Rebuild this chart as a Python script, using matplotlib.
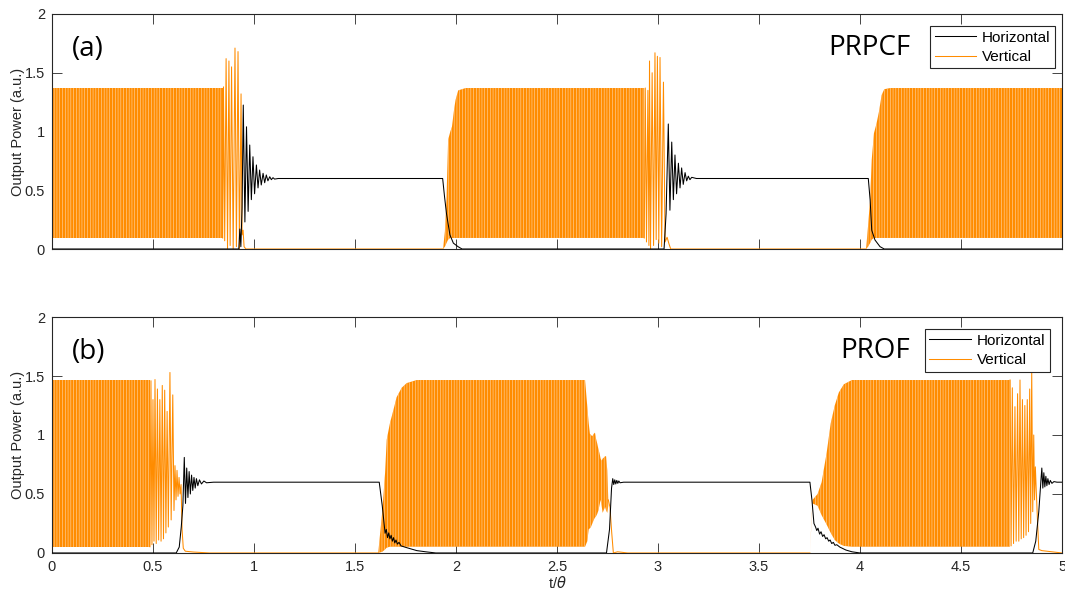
import numpy as np
import matplotlib
matplotlib.use("Agg")
import matplotlib.pyplot as plt
from matplotlib.lines import Line2D

plt.rcParams['font.family'] = ['Liberation Sans', 'DejaVu Sans']
plt.rcParams['hatch.linewidth'] = 0.4

ORANGE = '#FF8C00'
GREY = '#262626'

# ---------------- panel (a) PRPCF ----------------
# Vertical: dense oscillation bands (envelope knots: time, upper, lower)
a_band1_t = [0.0, 0.845]
a_band1_hi = [1.37, 1.37]
a_band1_lo = [0.094, 0.094]

a_band2_t = [1.936, 1.945, 1.953, 1.961, 1.972, 1.980, 1.990, 1.998, 2.011, 2.048, 2.932]
a_band2_hi = [0.0, 0.15, 0.42, 0.93, 1.00, 1.04, 1.18, 1.27, 1.35, 1.37, 1.37]
a_band2_lo = [0.0, 0.02, 0.05, 0.08, 0.094, 0.094, 0.094, 0.094, 0.094, 0.094, 0.094]

a_band3_t = [4.030, 4.040, 4.050, 4.058, 4.069, 4.082, 4.094, 4.107, 4.120, 4.150, 5.0]
a_band3_hi = [0.0, 0.20, 0.42, 0.76, 0.985, 1.07, 1.17, 1.31, 1.36, 1.37, 1.37]
a_band3_lo = [0.0, 0.02, 0.05, 0.08, 0.094, 0.094, 0.094, 0.094, 0.094, 0.094, 0.094]

# Vertical: single peaks of the bursts and the off state
a_vert_t = [0.845, 0.849, 0.855, 0.862, 0.869, 0.876, 0.882, 0.889, 0.897, 0.906, 0.913,
            0.921, 0.928, 0.936, 0.941, 0.946, 0.951, 0.960, 1.936, np.nan,
            2.932, 2.937, 2.943, 2.950, 2.955, 2.958, 2.963, 2.971, 2.978, 2.985, 2.991,
            2.997, 3.004, 3.010, 3.018, 3.027, 3.035, 3.045, 3.055, 3.063, 4.030]
a_vert_y = [0.094, 1.38, 0.07, 1.62, 0.0, 1.60, 0.03, 1.55, 0.0, 1.71, 0.02,
            1.68, 0.0, 1.32, 0.12, 0.16, 0.02, 0.0, 0.0, np.nan,
            0.094, 1.37, 0.06, 1.35, 0.03, 1.60, 0.0, 1.50, 0.03, 1.67, 0.08,
            1.64, 0.05, 1.63, 0.02, 1.42, 0.06, 0.10, 0.04, 0.0, 0.0]

# Horizontal
a_hor_t = [0.0, 0.925, 0.930, 0.935, 0.941, 0.947, 0.955, 0.963, 0.971, 0.979, 0.987,
           0.995, 1.003, 1.012, 1.020, 1.028, 1.036, 1.045, 1.053, 1.061, 1.069,
           1.078, 1.086, 1.094, 1.102, 1.120, 1.934, 1.943, 1.953, 1.970, 1.987,
           2.010, 2.030, 3.030, 3.040, 3.051, 3.059, 3.068, 3.076, 3.084, 3.092,
           3.101, 3.109, 3.117, 3.125, 3.134, 3.142, 3.150, 3.158, 3.167, 3.190,
           4.041, 4.050, 4.058, 4.074, 4.099, 4.120, 5.0]
a_hor_y = [0.0, 0.0, 0.17, 0.02, 0.35, 1.225, 0.23, 1.04, 0.32, 0.885, 0.42,
           0.785, 0.47, 0.715, 0.52, 0.672, 0.545, 0.644, 0.564, 0.63, 0.58,
           0.615, 0.59, 0.607, 0.595, 0.6, 0.6, 0.45, 0.30, 0.12, 0.05,
           0.02, 0.0, 0.0, 0.30, 1.064, 0.33, 0.91, 0.42, 0.80, 0.47,
           0.73, 0.52, 0.69, 0.55, 0.65, 0.58, 0.62, 0.59, 0.61, 0.6,
           0.6, 0.42, 0.16, 0.077, 0.02, 0.0, 0.0]

# ---------------- panel (b) PROF ----------------
b_band1_t = [0.0, 0.485]
b_band1_hi = [1.466, 1.466]
b_band1_lo = [0.053, 0.053]

b_band2_t = [1.615, 1.635, 1.649, 1.657, 1.673, 1.690, 1.706, 1.731, 1.756, 1.806, 2.639,
             2.650, 2.657, 2.663, 2.668, 2.675, 2.682, 2.688, 2.693, 2.699, 2.705,
             2.710, 2.716, 2.721, 2.726, 2.733, 2.738, 2.743, 2.749, 2.754]
b_band2_hi = [0.0, 0.35, 0.68, 0.96, 1.10, 1.21, 1.32, 1.40, 1.44, 1.466, 1.466,
              1.24, 1.10, 1.01, 1.00, 0.99, 1.01, 1.02, 0.97, 0.93, 0.88,
              0.85, 0.80, 0.78, 0.80, 0.81, 0.82, 0.82, 0.70, 0.45]
b_band2_lo = [0.0, 0.01, 0.03, 0.045, 0.053, 0.053, 0.053, 0.053, 0.053, 0.053, 0.053,
              0.10, 0.20, 0.21, 0.22, 0.25, 0.28, 0.30, 0.31, 0.33, 0.36,
              0.40, 0.45, 0.40, 0.34, 0.37, 0.39, 0.36, 0.34, 0.40]

b_band3_t = [3.752, 3.765, 3.790, 3.810, 3.835, 3.855, 3.875, 3.895, 3.920, 3.960, 4.743]
b_band3_hi = [0.0, 0.45, 0.50, 0.60, 0.85, 1.10, 1.25, 1.36, 1.43, 1.466, 1.466]
b_band3_lo = [0.0, 0.42, 0.40, 0.32, 0.24, 0.17, 0.11, 0.08, 0.06, 0.053, 0.053]

b_vert_t = [0.485, 0.490, 0.495, 0.500, 0.505, 0.510, 0.516, 0.522, 0.528, 0.534, 0.540,
            0.546, 0.552, 0.558, 0.564, 0.570, 0.576, 0.584, 0.590, 0.598, 0.604,
            0.609, 0.614, 0.619, 0.624, 0.629, 0.634, 0.639, 0.644, 0.650, 0.660,
            0.700, 0.780, 1.615, np.nan,
            2.754, 2.762, 2.771, 2.779, 2.800, 2.850, 3.752, np.nan,
            4.743, 4.748, 4.754, 4.760, 4.767, 4.773, 4.780, 4.786, 4.792, 4.798,
            4.804, 4.810, 4.816, 4.822, 4.828, 4.834, 4.840, 4.845, 4.850, 4.855,
            4.860, 4.864, 4.868, 4.872, 4.878, 4.885, 4.900, 4.950, 5.0]
b_vert_y = [0.053, 1.46, 0.07, 1.30, 0.10, 1.47, 0.08, 1.39, 0.11, 1.30, 0.10,
            1.42, 0.12, 1.38, 0.17, 1.20, 0.22, 1.53, 0.28, 1.34, 0.36,
            0.74, 0.45, 0.70, 0.48, 0.64, 0.50, 0.58, 0.20, 0.04, 0.015,
            0.008, 0.0, 0.0, np.nan,
            0.45, 0.39, 0.17, 0.0, 0.01, 0.0, 0.0, np.nan,
            1.466, 0.06, 1.40, 0.08, 1.24, 0.10, 1.35, 0.10, 1.466, 0.12,
            1.30, 0.13, 1.25, 0.15, 1.30, 0.18, 1.39, 0.25, 1.55, 0.35,
            1.00, 0.45, 0.73, 0.55, 0.30, 0.03, 0.02, 0.01, 0.0]

b_hor_t = [0.0, 0.615, 0.630, 0.640, 0.648, 0.655, 0.661, 0.667, 0.673, 0.679, 0.685,
           0.691, 0.697, 0.703, 0.709, 0.715, 0.722, 0.730, 0.740, 0.752, 0.765,
           0.800, 1.620, 1.635, 1.649, 1.655, 1.661, 1.667, 1.673, 1.679, 1.685,
           1.691, 1.697, 1.703, 1.710, 1.718, 1.728, 1.756, 1.806, 1.850, 1.900,
           2.745, 2.760, 2.770, 2.776, 2.781, 2.786, 2.791, 2.796, 2.801, 2.806,
           2.812, 2.830, 3.752, 3.762, 3.772, 3.780, 3.786, 3.792, 3.800, 3.807,
           3.815, 3.822, 3.830, 3.837, 3.845, 3.852, 3.860, 3.868, 3.876, 3.885,
           3.900, 3.930, 3.960, 4.000, 4.855, 4.870, 4.885, 4.895, 4.900, 4.905,
           4.910, 4.915, 4.920, 4.925, 4.930, 4.936, 4.942, 4.950, 4.960, 4.975, 5.0]
b_hor_y = [0.0, 0.0, 0.05, 0.22, 0.40, 0.81, 0.42, 0.72, 0.47, 0.69, 0.50,
           0.66, 0.53, 0.64, 0.55, 0.63, 0.57, 0.62, 0.585, 0.61, 0.595,
           0.6, 0.6, 0.40, 0.167, 0.20, 0.13, 0.17, 0.12, 0.15, 0.10,
           0.13, 0.085, 0.11, 0.075, 0.09, 0.06, 0.045, 0.02, 0.01, 0.0,
           0.0, 0.20, 0.55, 0.63, 0.58, 0.62, 0.585, 0.615, 0.59, 0.61,
           0.595, 0.6, 0.6, 0.45, 0.25, 0.22, 0.19, 0.21, 0.16, 0.18,
           0.14, 0.155, 0.12, 0.13, 0.10, 0.11, 0.08, 0.09, 0.065, 0.07,
           0.05, 0.025, 0.01, 0.0, 0.0, 0.10, 0.35, 0.60, 0.72, 0.55,
           0.68, 0.56, 0.65, 0.57, 0.63, 0.58, 0.615, 0.59, 0.605, 0.6, 0.6]

x_ticks = [0, 0.5, 1, 1.5, 2, 2.5, 3, 3.5, 4, 4.5, 5]
x_ticklabels = ['0', '0.5', '1', '1.5', '2', '2.5', '3', '3.5', '4', '4.5', '5']
y_ticks = [0, 0.5, 1, 1.5, 2]
y_ticklabels = ['0', '0.5', '1', '1.5', '2']


fig = plt.figure(figsize=(10.65, 5.93), dpi=100)
ax1 = fig.add_axes([0.0488, 0.5801, 0.9484, 0.3963])
ax2 = fig.add_axes([0.0488, 0.0675, 0.9484, 0.3979])

panels = [
    (ax1, [(a_band1_t, a_band1_hi, a_band1_lo), (a_band2_t, a_band2_hi, a_band2_lo),
           (a_band3_t, a_band3_hi, a_band3_lo)],
     a_vert_t, a_vert_y, a_hor_t, a_hor_y, '(a)', 'PRPCF', (0.993, 0.949)),
    (ax2, [(b_band1_t, b_band1_hi, b_band1_lo), (b_band2_t, b_band2_hi, b_band2_lo),
           (b_band3_t, b_band3_hi, b_band3_lo)],
     b_vert_t, b_vert_y, b_hor_t, b_hor_y, '(b)', 'PROF', (0.988, 0.949)),
]

for ax, bands, vt, vy, ht, hy, tag, name, leg_pos in panels:
    for bt, bhi, blo in bands:
        ax.fill_between(bt, blo, bhi, facecolor=ORANGE, edgecolor='#FFD9AE',
                        hatch='||||||', linewidth=0, zorder=2)
    ax.plot(vt, vy, color=ORANGE, lw=0.75, zorder=3)
    ax.plot(ht, hy, color='black', lw=0.75, zorder=4)

    ax.set_xlim(0, 5)
    ax.set_ylim(0, 2)
    ax.set_xticks(x_ticks)
    ax.set_yticks(y_ticks)
    ax.set_yticklabels(y_ticklabels)
    ax.tick_params(direction='in', length=7, width=0.6, top=True, right=True,
                   colors=GREY, labelsize=10.5, labelcolor=GREY, pad=5)
    for s in ax.spines.values():
        s.set_color(GREY)
        s.set_linewidth(0.8)
    ax.set_ylabel('Output Power (a.u.)', fontsize=10.5, color=GREY, labelpad=0)

    ax.text(0.1, 1.70, tag, fontsize=20, family=['Open Sans', 'DejaVu Sans'],
            ha='left', va='center', zorder=6)
    ax.text(4.248, 1.71, name, fontsize=20, family=['Open Sans', 'DejaVu Sans'],
            ha='right', va='center', zorder=6)

    handles = [Line2D([], [], color='black', lw=0.75),
               Line2D([], [], color=ORANGE, lw=0.75)]
    leg = ax.legend(handles, ['Horizontal', 'Vertical'], loc='upper right',
                    bbox_to_anchor=leg_pos, fontsize=11, frameon=True, fancybox=False,
                    edgecolor=GREY, framealpha=1, borderpad=0.3, labelspacing=0.35,
                    handlelength=2.7, handletextpad=0.4, borderaxespad=0)
    leg.get_frame().set_linewidth(0.8)
    leg.set_zorder(7)

ax1.set_xticklabels([])
ax2.set_xticklabels(x_ticklabels)
ax2.set_xlabel('t/$\\theta$', fontsize=10.5, color=GREY, labelpad=1)

fig.savefig('out.png', dpi=100)
